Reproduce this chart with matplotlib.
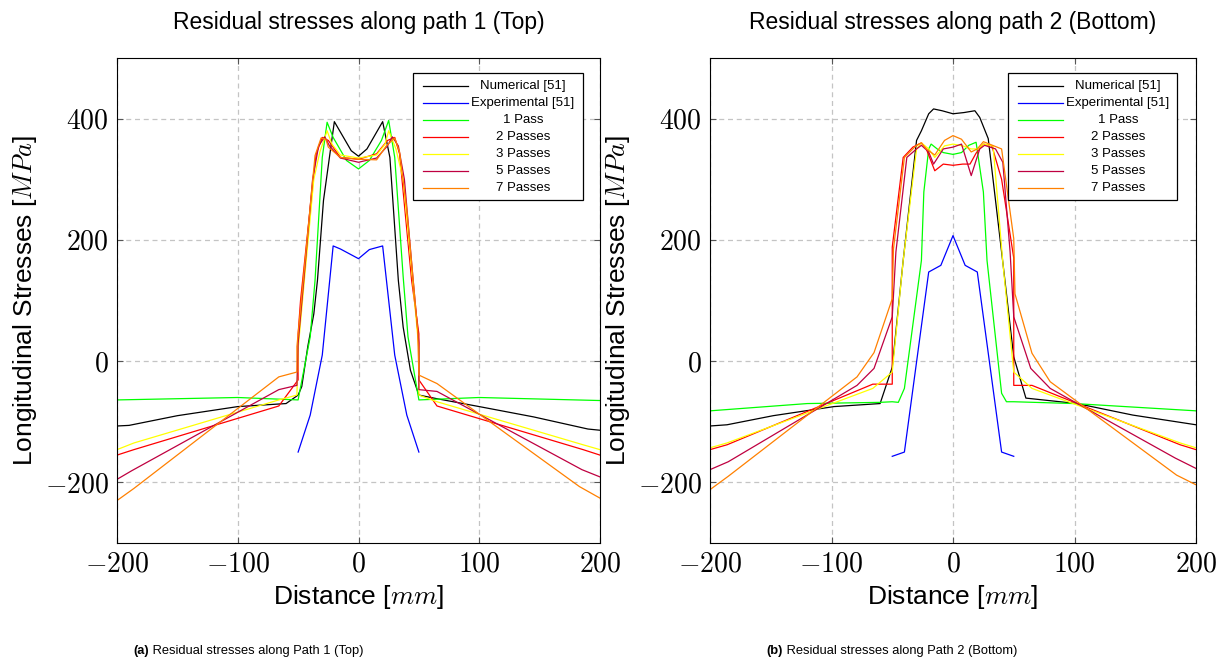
import matplotlib
matplotlib.use("Agg")
import matplotlib.pyplot as plt
from matplotlib.lines import Line2D
from matplotlib.patches import Rectangle
from matplotlib.ticker import FuncFormatter

plt.rcParams["font.family"] = ["Liberation Sans", "DejaVu Sans"]
plt.rcParams["mathtext.fontset"] = "cm"

# ---- Path 1 (Top) ----
num1_x = [-200, -190, -150, -100, -60, -50, -47, -42, -37, -34, -29, -20, -6, 0, 7, 20, 26, 33, 37, 43, 50, 65, 100, 145, 190, 200]
num1_y = [-107, -106, -90, -75, -70, -56, -42, 24, 78, 133, 265, 395, 347, 338, 350, 395, 336, 133, 56, -15, -56, -62, -75, -92, -112, -114]
exp1_x = [-50, -40, -30, -21, -15, 0, 9, 20, 30, 40, 50]
exp1_y = [-150, -89, 10, 190, 185, 169, 184, 190, 10, -89, -150]
p1_1_x = [-200, -100, -50, -40, -36, -30, -26, -21, -10, 0, 9, 19, 25, 30, 37, 41, 50, 100, 200]
p1_1_y = [-64, -60, -64, 40, 133, 336, 394, 369, 331, 317, 331, 364, 397, 336, 139, 40, -64, -60, -65]
p2_1_x = [-200, -186, -66, -50, -50, -48, -37, -35, -30, -25, -15, 0, 15, 24, 30, 34, 44, 50, 50, 65, 186, 200]
p2_1_y = [-155, -146, -74, -31, 45, 100, 310, 342, 369, 364, 336, 333, 342, 364, 369, 342, 133, 45, -31, -74, -146, -155]
p3_1_x = [-200, -186, -66, -51, -50, -45, -37, -32, -26, -22, -15, 0, 15, 22, 25, 31, 37, 45, 50, 50, 65, 186, 200]
p3_1_y = [-146, -135, -64, -56, 20, 130, 300, 345, 380, 358, 340, 335, 340, 358, 380, 350, 300, 130, 20, -56, -67, -138, -146]
p5_1_x = [-200, -188, -66, -51, -50, -45, -38, -33, -28, -24, -15, 0, 15, 24, 28, 33, 38, 45, 50, 50, 65, 185, 200]
p5_1_y = [-195, -181, -47, -40, 30, 140, 300, 355, 370, 355, 335, 328, 335, 355, 370, 355, 300, 140, 30, -47, -50, -179, -191]
p7_1_x = [-200, -186, -66, -51, -51, -45, -36, -31, -27, -25, -15, 0, 15, 23, 30, 34, 40, 49, 50, 65, 183, 200]
p7_1_y = [-230, -210, -26, -18, 24, 150, 339, 368, 366, 353, 336, 333, 332, 355, 368, 345, 250, 51, -23, -37, -207, -226]

# ---- Path 2 (Bottom) ----
num2_x = [-200, -186, -148, -98, -60, -50, -41, -30, -26, -20, -16, -9, 0, 9, 18, 22, 29, 41, 50, 60, 102, 148, 200]
num2_y = [-107, -105, -90, -75, -70, -10, 166, 364, 380, 408, 416, 413, 408, 410, 413, 402, 367, 163, 7, -61, -70, -89, -105]
exp2_x = [-50, -40, -20, -10, 0, 10, 20, 40, 50]
exp2_y = [-157, -150, 147, 158, 207, 158, 147, -150, -157]
p1_2_x = [-200, -120, -60, -50, -45, -40, -26, -24, -20, -18, -13, -8, 0, 7, 13, 19, 25, 28, 40, 44, 50, 100, 200]
p1_2_y = [-82, -70, -68, -67, -68, -45, 166, 279, 350, 358, 350, 344, 341, 344, 356, 361, 279, 166, -53, -67, -67, -70, -82]
p2_2_x = [-200, -186, -66, -50, -50, -41, -33, -26, -22, -15, -8, 0, 8, 14, 19, 25, 32, 40, 50, 50, 65, 187, 200]
p2_2_y = [-146, -138, -38, -38, 188, 336, 353, 360, 350, 314, 325, 323, 325, 325, 343, 358, 355, 300, 170, -40, -40, -138, -146]
p3_2_x = [-200, -186, -66, -50, -41, -30, -26, -20, -15, -7, 0, 8, 15, 21, 25, 33, 41, 50, 65, 187, 200]
p3_2_y = [-143, -135, -45, -18, 166, 350, 360, 350, 336, 355, 358, 355, 350, 350, 358, 355, 163, -18, -45, -135, -143]
p5_2_x = [-200, -185, -79, -65, -50, -47, -38, -30, -26, -20, -16, -8, 0, 7, 15, 22, 26, 35, 41, 47, 50, 64, 80, 183, 200]
p5_2_y = [-179, -166, -40, -12, 73, 180, 336, 350, 356, 345, 325, 350, 353, 358, 306, 350, 356, 350, 328, 180, 73, -12, -45, -160, -177]
p7_2_x = [-200, -185, -79, -65, -50, -49, -40, -30, -26, -22, -15, -7, 0, 7, 15, 20, 25, 40, 50, 51, 65, 80, 184, 200]
p7_2_y = [-212, -190, -26, 14, 103, 185, 336, 356, 360, 350, 340, 364, 372, 366, 345, 350, 362, 350, 202, 111, 13, -34, -188, -204]

labels = ["Numerical [51]", "Experimental [51]", "1 Pass", "2 Passes", "3 Passes", "5 Passes", "7 Passes"]
colors = ["black", "#0000ff", "#00ff00", "#ff0000", "#ffff00", "#bf0040", "#ff8000"]

series = [
    [(num1_x, num1_y), (exp1_x, exp1_y), (p1_1_x, p1_1_y), (p2_1_x, p2_1_y),
     (p3_1_x, p3_1_y), (p5_1_x, p5_1_y), (p7_1_x, p7_1_y)],
    [(num2_x, num2_y), (exp2_x, exp2_y), (p1_2_x, p1_2_y), (p2_2_x, p2_2_y),
     (p3_2_x, p3_2_y), (p5_2_x, p5_2_y), (p7_2_x, p7_2_y)],
]
titles = ["Residual stresses along path 1 (Top)", "Residual stresses along path 2 (Bottom)"]
captions = [("(a)", " Residual stresses along Path 1 (Top)"),
            ("(b)", " Residual stresses along Path 2 (Bottom)")]

xticks = [-200, -100, 0, 100, 200]
yticks = [-200, 0, 200, 400]

W, H = 1226, 666
fig = plt.figure(figsize=(W / 100, H / 100), dpi=100)
axes_px = [(117, 58, 483, 485), (710, 58, 486, 485)]

mathfmt = FuncFormatter(lambda v, p: r"$%d$" % v)

for k, (l, t, w, h) in enumerate(axes_px):
    ax = fig.add_axes([l / W, 1 - (t + h) / H, w / W, h / H])
    ax.set_xlim(-200, 200)
    ax.set_ylim(-300, 500)
    ax.set_xticks(xticks)
    ax.set_yticks(yticks)
    ax.xaxis.set_major_formatter(mathfmt)
    ax.yaxis.set_major_formatter(mathfmt)
    ax.tick_params(direction="in", length=4, width=0.8, labelsize=20, pad=6,
                   color="#555555", top=True, right=True)
    ax.grid(True, color="#c4c4c4", linewidth=0.9, linestyle=(0, (4, 3)))
    ax.set_axisbelow(True)
    for s in ax.spines.values():
        s.set_linewidth(0.8)

    for (xs, ys), c in zip(series[k], colors):
        ax.plot(xs, ys, color=c, linewidth=0.9)

    ax.set_title(titles[k], fontsize=16.5, pad=21)
    ax.set_xlabel(r"Distance [$mm$]", fontsize=19, labelpad=4)
    ax.set_ylabel(r"Longitudinal Stresses [$MPa$]", fontsize=19, labelpad=4)

    # legend box with centred entry text
    x0 = 0.613
    x1 = 0.965 if k == 0 else 0.961
    ytop, ybot = 0.969, 0.707
    ax.add_patch(Rectangle((x0, ybot), x1 - x0, ytop - ybot, transform=ax.transAxes,
                           facecolor="white", edgecolor="black", linewidth=0.9, zorder=5))
    for i, (lab, c) in enumerate(zip(labels, colors)):
        yy = 1 - (86 - 58 + i * 17) / h
        ax.add_line(Line2D([x0 + 10 / w, x0 + 55 / w], [yy, yy], transform=ax.transAxes,
                           color=c, linewidth=0.9, zorder=6))
        ax.text(x0 + 110 / w, yy, lab, transform=ax.transAxes, fontsize=9.5,
                ha="center", va="center", zorder=6)

# sub-figure captions: bold tag followed by plain text
fig.canvas.draw()
renderer = fig.canvas.get_renderer()
for (tag, rest), xc in zip(captions, [248, 892]):
    t1 = fig.text(0, 0, tag, fontsize=9.3, fontweight="bold")
    t2 = fig.text(0, 0, rest, fontsize=9.3)
    w1 = t1.get_window_extent(renderer).width
    w2 = t2.get_window_extent(renderer).width
    start = xc - (w1 + w2) / 2
    yfig = 1 - 651 / H
    t1.set_position((start / W, yfig))
    t1.set_va("center")
    t2.set_position(((start + w1) / W, yfig))
    t2.set_va("center")

fig.savefig("out.png", dpi=100)
